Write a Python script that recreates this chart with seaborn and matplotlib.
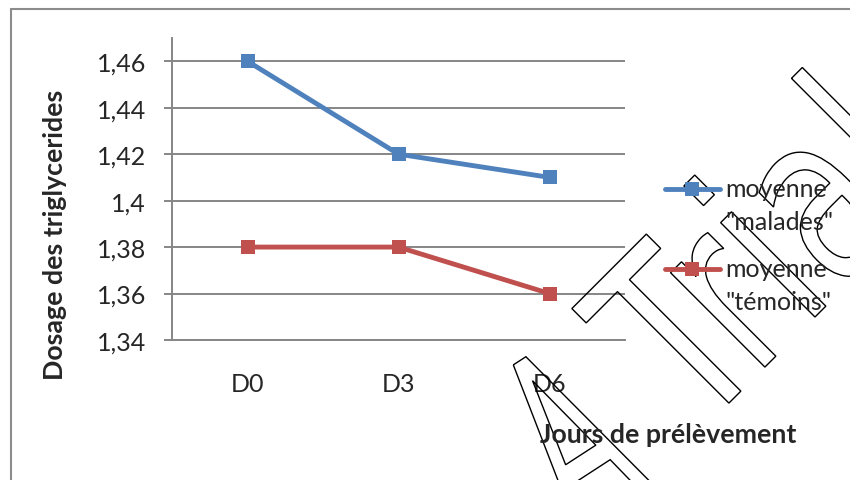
import numpy as np
import pandas as pd
import matplotlib
matplotlib.use('Agg')
import matplotlib.pyplot as plt
import seaborn as sns
from matplotlib.lines import Line2D
from matplotlib.textpath import TextPath
from matplotlib.patches import PathPatch
from matplotlib.font_manager import FontProperties
from matplotlib.transforms import Affine2D, IdentityTransform

# données
jours = ['D0', 'D3', 'D6']
malades = [1.46, 1.42, 1.41]
temoins = [1.38, 1.38, 1.36]
groupes = ['moyenne\n"malades"', 'moyenne\n"témoins"']
couleurs = ['#4F81BD', '#C0504D']
yticks = [1.34, 1.36, 1.38, 1.40, 1.42, 1.44, 1.46]
ytick_labels = ['1,34', '1,36', '1,38', '1,4', '1,42', '1,44', '1,46']

df = pd.DataFrame({
    'Jour': jours * 2,
    'Dosage': malades + temoins,
    'Groupe': [groupes[0]] * 3 + [groupes[1]] * 3,
})

sns.set_theme(style='white')
plt.rcParams['font.family'] = ['Lato', 'DejaVu Sans']

W, H = 850, 481
fs = 18
fig = plt.figure(figsize=(W / 100, H / 100), dpi=100)
ax = fig.add_axes([172 / W, 1 - 341 / H, 453 / W, 302 / H])

sns.lineplot(data=df, x='Jour', y='Dosage', hue='Groupe', style='Groupe',
             palette=couleurs, markers=['s', 's'], dashes=False,
             lw=3.5, markersize=10, markeredgewidth=0, sort=False,
             legend=False, ax=ax)

gray = '#868686'
ax.set_xlim(-0.5, 2.5)
ax.set_ylim(1.34, 1.47)
ax.set_yticks(yticks)
ax.set_yticklabels(ytick_labels)
ax.yaxis.grid(True, color=gray, lw=1.4)
ax.xaxis.grid(False)
ax.set_axisbelow(True)
for s in ['top', 'right']:
    ax.spines[s].set_visible(False)
for s in ['left', 'bottom']:
    ax.spines[s].set_color(gray)
    ax.spines[s].set_linewidth(1.4)
ax.tick_params(axis='y', direction='out', length=5.8, width=1.4, color=gray,
               labelsize=fs, pad=13, left=True)
ax.tick_params(axis='x', length=0, labelsize=fs, pad=23)
ax.set_xlabel('')
ax.set_ylabel('')

fig.text(55 / W, 1 - 235 / H, 'Dosage des triglycerides', rotation=90,
         fontsize=19.3, fontweight='bold', ha='center', va='center')
fig.text(668 / W, 1 - 435 / H, 'Jours de prélèvement',
         fontsize=19.3, fontweight='bold', ha='center', va='center')

# légende à droite (repère aligné sur la première ligne)
for i, (g, c) in enumerate(zip(groupes, couleurs)):
    y = 190 + 80 * i
    fig.add_artist(Line2D([665 / W, 720 / W], [1 - y / H, 1 - y / H], color=c, lw=3.5))
    fig.add_artist(Line2D([692 / W], [1 - y / H], color=c, marker='s',
                          markersize=10, markeredgewidth=0))
    fig.text(725 / W, 1 - (y + 16) / H, g, fontsize=fs, ha='left', va='center',
             linespacing=1.5)

# cadre du graphique
fig.add_artist(Line2D([11 / W, 11 / W], [0, 1 - 10 / H], color='#8c8c8c', lw=1.5))
fig.add_artist(Line2D([11 / W, 1], [1 - 10 / H, 1 - 10 / H], color='#8c8c8c', lw=1.5))

# filigrane
fp = FontProperties(family='DejaVu Sans')
for txt, sx, rot, (tx, ty) in [('Trial', 0.7, 45, (698, 46)), ('A', 0.55, 33, (578, -55))]:
    tp = TextPath((0, 0), txt, size=244, prop=fp)
    tr = Affine2D().scale(sx, 1).rotate_deg(rot).translate(tx, ty)
    fig.add_artist(PathPatch(tr.transform_path(tp), fc='none', ec='black', lw=1,
                             transform=IdentityTransform()))

fig.savefig('out.png', dpi=100)
